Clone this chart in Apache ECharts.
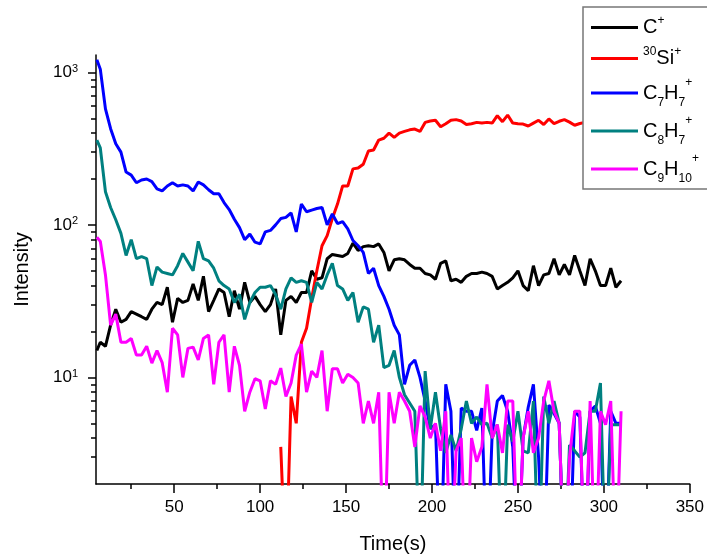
<!DOCTYPE html>
<html lang="en">
<head>
<meta charset="UTF-8">
<script src="https://cdn.jsdelivr.net/npm/echarts@6/dist/echarts.min.js"></script>
<title>Intensity vs time</title>
<style>html,body{margin:0;padding:0;background:#fff;}</style>
</head>
<body>
<div id="main" style="width:707px;height:559px;"></div>
<script type="text/javascript">
// time axis (s), shared by all series
var time = [5, 7, 10, 13, 16, 19, 22, 25, 28, 31, 34, 37, 40, 43, 46, 49, 52, 55, 58, 61,
    64, 67, 70, 73, 76, 79, 82, 85, 88, 91, 94, 97, 100, 103, 106, 109, 112, 115, 118, 121,
    124, 127, 130, 133, 136, 139, 142, 145, 148, 151, 154, 157, 160, 163, 166, 169, 172, 175, 178, 181,
    184, 187, 190, 193, 196, 199, 202, 205, 208, 211, 214, 217, 220, 223, 226, 229, 232, 235, 238, 241,
    244, 247, 250, 253, 256, 259, 262, 265, 268, 271, 274, 277, 280, 283, 286, 289, 292, 295, 298, 301,
    304, 307, 310];

// 0.5 = zero count (falls below the axis and is clipped)
var cPlus = [15, 17, 16, 22, 28, 23, 24, 27, 26, 25, 24, 28, 31, 30, 39, 23, 33, 31, 32, 41,
    32, 46, 27, 32, 38, 36, 25, 37, 28, 42, 31, 34, 30, 27, 30, 38, 19, 32, 34, 31,
    36, 36, 50, 44, 45, 60, 64, 63, 62, 65, 76, 68, 72, 73, 72, 75, 66, 50, 59, 60,
    59, 55, 52, 52, 48, 47, 44, 56, 58, 43, 44, 42, 46, 48, 48, 49, 48, 46, 38, 40,
    42, 45, 50, 40, 37, 54, 40, 47, 48, 60, 47, 55, 47, 63, 50, 40, 60, 50, 40, 40,
    52, 39, 43];

var si30 = [null, null, null, null, null, null, null, null, null, null, null, null, null, null, null, null, null, null, null, null,
    null, null, null, null, null, null, null, null, null, null, null, null, null, null, null, null, 3.5, 0.5, 7.5, 5,
    17, 21, 33, 50, 73, 85, 110, 137, 180, 180, 233, 236, 250, 305, 310, 360, 370, 400, 375, 400,
    410, 420, 425, 410, 470, 480, 485, 440, 460, 485, 490, 480, 455, 460, 470, 465, 470, 465, 520, 475,
    525, 465, 460, 458, 445, 465, 485, 455, 495, 462, 478, 490, 472, 450, 462, 470, 480, 465, 475, 470,
    480, 470, 475];

var c7h7 = [1210, 1050, 576, 427, 340, 300, 222, 212, 189, 197, 200, 192, 172, 167, 180, 189, 180, 183, 180, 167,
    191, 183, 170, 160, 160, 140, 126, 109, 96, 80, 87, 77, 75, 90, 92, 100, 110, 112, 120, 90,
    137, 122, 125, 128, 130, 100, 118, 102, 105, 94, 79, 73, 66, 48, 52, 40, 34, 28, 22, 19,
    9, 12, 13, 10, 7, 4.6, 4.9, 0.5, 9, 6, 0.5, 6.3, 6, 6, 4.5, 6.3, 0.5, 4.3, 7, 7.6,
    6, 3.5, 0.5, 4, 6.4, 9, 3, 0.5, 6.6, 5.8, 5, 0.5, 0.5, 6, 5.5, 0.5, 6, 6.5, 5, 0.5,
    6, 5, 5];

var c8h7 = [360, 320, 165, 130, 108, 88, 63, 80, 60, 62, 60, 40, 53, 49, 48, 47, 54, 65, 57, 50,
    78, 60, 58, 52, 43, 40, 38, 31, 35, 24, 31, 36, 39, 39, 40, 35, 28, 38, 45, 42,
    43, 42, 31, 42, 38, 47, 56, 40, 38, 32, 36, 23, 29, 28, 17, 22, 11.6, 12, 15, 10,
    7.7, 6.8, 6, 0.5, 11, 4.6, 8, 4.6, 3.2, 4.2, 3.3, 4.6, 7, 5, 5.5, 4.9, 5, 4, 4.9, 0.5,
    4.9, 3.8, 6, 3.3, 3.2, 7, 0.5, 7.5, 5, 7, 5, 0.5, 3.6, 3.3, 3, 3.2, 6, 6, 9.2, 0.5,
    4.9, 4.9, 4.9];

var c9h10 = [83, 78, 47, 22, 26, 17, 17, 18, 14, 14, 16, 12.4, 15, 12.5, 8, 21, 19, 10, 15.5, 15.8,
    13, 18, 19, 9, 17, 19, 8, 16, 12, 6, 8, 9.8, 9.5, 6.2, 9.5, 9, 11.5, 7.5, 9.2, 14,
    16.5, 8, 11, 10, 15, 6, 11.4, 11.4, 9.2, 10.5, 10, 9.2, 5, 7, 5, 8, 0.5, 8, 5, 8,
    7, 6, 3.5, 6.5, 5.5, 4, 5, 3.3, 6, 0.5, 3.3, 4, 0.5, 4, 2.8, 3.5, 9, 4, 4.9, 3.2,
    7, 7, 0.5, 4, 6, 3.2, 4, 7, 9.5, 6, 5, 0.5, 3, 6, 6, 0.5, 7, 0.5, 6, 4.9,
    7, 0.5, 6];

var seriesNames = ['C+', '30Si+', 'C7H7+', 'C8H7+', 'C9H10+'];
var seriesValues = [cPlus, si30, c7h7, c8h7, c9h10];
var seriesColors = ['#000000', '#ff0000', '#0000ff', '#008080', '#ff00ff'];
var legendLabels = {
    'C+': 'C{sup|+}',
    '30Si+': '{sup|30}Si{sup|+}',
    'C7H7+': 'C{sub|7}H{sub|7}{sup|+}',
    'C8H7+': 'C{sub|8}H{sub|7}{sup|+}',
    'C9H10+': 'C{sub|9}H{sub|10}{sup|+}'
};

// tick labels
var xLabels = [50, 100, 150, 200, 250, 300, 350];
var xMinor = [25, 75, 125, 175, 225, 275, 325];
var yDecades = [10, 100, 1000];
var yMinor = [3, 4, 5, 6, 7, 8, 9, 20, 30, 40, 50, 60, 70, 80, 90, 200, 300, 400, 500, 600, 700, 800, 900];

var xMin = 4.5, xMax = 350, yMin = 2, yMax = 1300;
var font = "'Liberation Sans', Arial, sans-serif";

var myChart = echarts.init(document.getElementById('main'));

var series = seriesNames.map(function (name, i) {
    return {
        name: name,
        type: 'line',
        xAxisIndex: 0,
        yAxisIndex: 0,
        data: time.map(function (t, j) { return [t, seriesValues[i][j]]; }),
        showSymbol: false,
        symbol: 'none',
        connectNulls: false,
        clip: true,
        color: seriesColors[i],
        lineStyle: { width: 3, color: seriesColors[i] }
    };
});

var option = {
    animation: false,
    backgroundColor: '#ffffff',
    textStyle: { fontFamily: font },
    grid: { left: 96, right: 15, top: 55, bottom: 69, containLabel: false },
    legend: {
        orient: 'vertical',
        left: 583,
        top: 7,
        padding: [8, 30, 4, 8],
        itemGap: 6,
        itemWidth: 47,
        itemHeight: 3,
        icon: 'rect',
        backgroundColor: '#ffffff',
        borderColor: '#777777',
        borderWidth: 1.5,
        borderRadius: 0,
        data: seriesNames,
        formatter: function (name) { return legendLabels[name]; },
        textStyle: {
            fontFamily: font, fontSize: 20, lineHeight: 25, color: '#000',
            rich: {
                sup: { fontFamily: font, fontSize: 12, lineHeight: 12, verticalAlign: 'top', color: '#000' },
                sub: { fontFamily: font, fontSize: 12, lineHeight: 32, verticalAlign: 'bottom', color: '#000' }
            }
        }
    },
    xAxis: [{
        type: 'value',
        min: xMin,
        max: xMax,
        name: 'Time(s)',
        nameLocation: 'middle',
        nameGap: 50,
        nameTextStyle: { fontFamily: font, fontSize: 20, color: '#000' },
        axisLine: { show: true, lineStyle: { color: '#000', width: 1.5 } },
        axisTick: { show: true, customValues: xLabels, length: 9, lineStyle: { color: '#000', width: 1.5 } },
        axisLabel: { customValues: xLabels, margin: 15, fontFamily: font, fontSize: 17, color: '#000' },
        splitLine: { show: false }
    }, {
        type: 'value',
        min: xMin,
        max: xMax,
        position: 'bottom',
        axisLine: { show: false },
        axisTick: { show: true, customValues: xMinor, length: 5, lineStyle: { color: '#000', width: 1.5 } },
        axisLabel: { show: false },
        splitLine: { show: false }
    }],
    yAxis: [{
        type: 'log',
        logBase: 10,
        min: yMin,
        max: yMax,
        name: 'Intensity',
        nameLocation: 'middle',
        nameGap: 64,
        nameTextStyle: { fontFamily: font, fontSize: 20, color: '#000' },
        axisLine: { show: true, lineStyle: { color: '#000', width: 1.5 } },
        axisTick: { show: false },
        axisLabel: { show: false },
        splitLine: { show: false },
        minorTick: { show: false }
    }, {
        // decade ticks and labels, placed in log10 space
        type: 'value',
        min: Math.log10(yMin),
        max: Math.log10(yMax),
        position: 'left',
        axisLine: { show: false },
        axisTick: { show: true, customValues: yDecades.map(Math.log10), length: 8, lineStyle: { color: '#000', width: 1.5 } },
        axisLabel: {
            customValues: yDecades.map(Math.log10),
            margin: 18,
            fontFamily: font, fontSize: 17, color: '#000', lineHeight: 18,
            formatter: function (v) { return '10{sup|' + Math.round(v) + '}'; },
            rich: { sup: { fontFamily: font, fontSize: 11, lineHeight: 11, verticalAlign: 'top', color: '#000' } }
        },
        splitLine: { show: false }
    }, {
        type: 'value',
        min: Math.log10(yMin),
        max: Math.log10(yMax),
        position: 'left',
        axisLine: { show: false },
        axisTick: { show: true, customValues: yMinor.map(Math.log10), length: 5, lineStyle: { color: '#000', width: 1.5 } },
        axisLabel: { show: false },
        splitLine: { show: false }
    }],
    series: series
};

myChart.setOption(option);
</script>
</body>
</html>
